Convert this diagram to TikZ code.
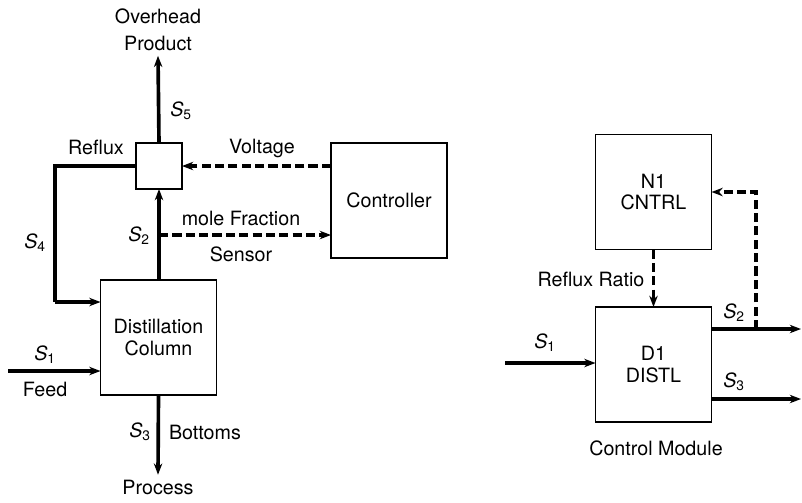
\documentclass[tikz,border=0pt]{standalone}
\usepackage{fontspec}
\setmainfont{TeX Gyre Heros}
\usetikzlibrary{arrows.meta,positioning}
\newcommand{\strm}[1]{\textit{S}\textsubscript{#1}}

\begin{document}
\begin{tikzpicture}[
  x=0.025cm,y=-0.025cm,
  >={Stealth[length=8pt,width=6pt]},
  every node/.style={font=\fontsize{14}{15}\selectfont},
  blk/.style={rectangle,draw,line width=1.3pt,minimum width=2.9cm,minimum height=2.875cm,outer sep=0pt,align=center},
  flow/.style={->,line width=2.6pt},
  sig/.style={->,line width=2.4pt,dash pattern=on 6.5pt off 3pt}
]
\useasboundingbox (0,0) rectangle (802,502);
% distillation flowsheet
\node[blk] (col) at (158.5,337.5) {Distillation\\Column};
\node[blk,minimum width=1.15cm,minimum height=1.15cm] (split) at (159,166) {};
\node[blk] (ctrl) at (389,200.5) {Controller};
\node[align=center,font=\fontsize{14}{19}\selectfont] (ovh) at (158,30) {Overhead\\Product};
\node (proc) at (158,487) {Process};
\coordinate (k4) at (55,302);
\coordinate (feedin) at (8,371);
\coordinate (tap) at (159,235);
\draw[flow] (split.north) -- (ovh.south);
\draw[flow,-] (split.west) -| (k4);
\draw[flow] (k4) -- (k4 -| col.west);
\draw[flow] (col.north -| tap) -- (split.south);
\draw[flow] (feedin) -- (feedin -| col.west);
\draw[flow] (col.south) -- (proc.north);
\draw[sig] (ctrl.west |- split.east) -- (split.east);
\draw[sig] (tap) -- (tap -| ctrl.west);
\node at (181,111) {\strm{5}};
\node at (96,147) {Reflux};
\node at (262,148) {Voltage};
\node at (35,243) {\strm{4}};
\node at (139,236) {\strm{2}};
\node at (241,218) {mole Fraction};
\node at (241,254) {Sensor};
\node at (45,355) {\strm{1}};
\node at (45,389) {Feed};
\node at (140,432) {\strm{3}};
\node at (205,432) {Bottoms};
% control module
\node[blk] (n1) at (653.5,192) {N1\\CNTRL};
\node[blk] (d1) at (653.5,364.5) {D1\\DISTL};
\node (cm) at (656,448) {Control Module};
\coordinate (in1) at (505,363);
\coordinate (out2) at (801,329);
\coordinate (out3) at (801,399);
\coordinate (tap2) at (756,329);
\draw[sig] (n1.south) -- (d1.north);
\draw[flow] (in1) -- (in1 -| d1.west);
\draw[flow] (out2 -| d1.east) -- (out2);
\draw[flow] (out3 -| d1.east) -- (out3);
\draw[sig] (tap2) |- (n1.east);
\node at (591,279) {Reflux Ratio};
\node at (545,343) {\strm{1}};
\node at (734,313) {\strm{2}};
\node at (734,382) {\strm{3}};
\end{tikzpicture}
\end{document}
